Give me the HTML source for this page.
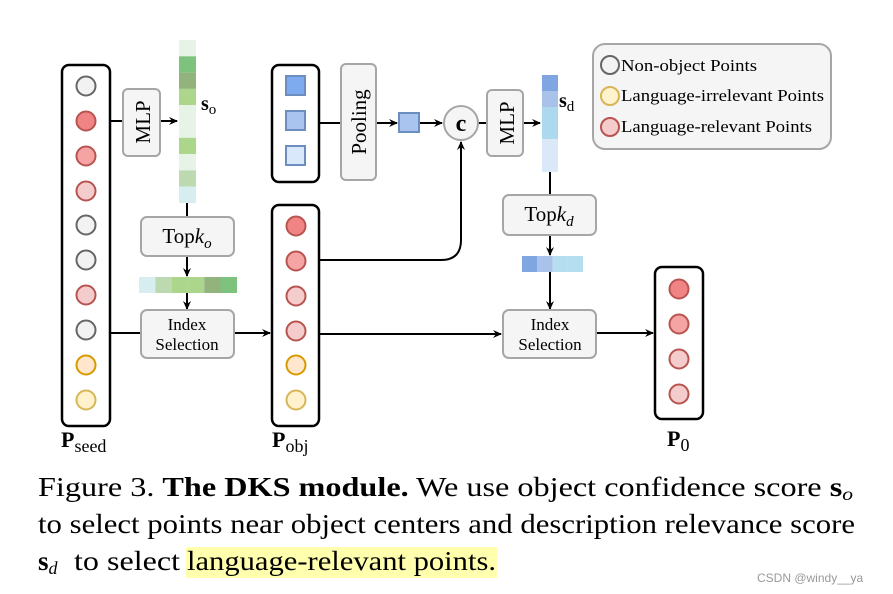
<!DOCTYPE html>
<html><head><meta charset="utf-8"><style>
html,body{margin:0;padding:0;background:#fff;}
svg{display:block;}
text{font-family:"Liberation Serif",serif;}
</style></head><body>
<svg width="893" height="594" viewBox="0 0 893 594" xmlns="http://www.w3.org/2000/svg">
<defs>
<marker id="ar" markerWidth="10" markerHeight="10" refX="8" refY="5" orient="auto" markerUnits="userSpaceOnUse">
<path d="M0,1 L9,5 L0,9 L3,5 Z" fill="#000"/>
</marker>
</defs>
<g stroke="#000" stroke-width="2" fill="none">
<line x1="110" y1="121" x2="123" y2="121"/>
<line x1="160" y1="121" x2="177" y2="121" marker-end="url(#ar)"/>
<line x1="187" y1="203" x2="187" y2="217"/>
<line x1="187" y1="256" x2="187" y2="276" marker-end="url(#ar)"/>
<line x1="187" y1="293" x2="187" y2="309" marker-end="url(#ar)"/>
<line x1="110" y1="333" x2="141" y2="333"/>
<line x1="234" y1="333" x2="270" y2="333" marker-end="url(#ar)"/>
<line x1="319" y1="123" x2="341" y2="123"/>
<line x1="376" y1="123" x2="397" y2="123" marker-end="url(#ar)"/>
<line x1="419" y1="123" x2="442" y2="123" marker-end="url(#ar)"/>
<line x1="478" y1="123" x2="487" y2="123"/>
<line x1="523" y1="123" x2="540" y2="123" marker-end="url(#ar)"/>
<path d="M319,260 L441,260 Q461,260 461,240 L461,142" marker-end="url(#ar)"/>
<line x1="550" y1="172" x2="550" y2="195"/>
<line x1="550" y1="235" x2="550" y2="255" marker-end="url(#ar)"/>
<line x1="550" y1="272" x2="550" y2="309" marker-end="url(#ar)"/>
<line x1="319" y1="334" x2="501" y2="334" marker-end="url(#ar)"/>
<line x1="596" y1="333" x2="653" y2="333" marker-end="url(#ar)"/>
</g>
<g stroke="#000" stroke-width="2.5" fill="#fff">
<rect x="62" y="65" width="48" height="361" rx="7"/>
<rect x="272" y="65" width="47" height="117" rx="7"/>
<rect x="272" y="205" width="47" height="221" rx="7"/>
<rect x="655" y="267" width="48" height="152" rx="7"/>
</g>
<g stroke="#a6a6a6" stroke-width="2" fill="#f5f5f5">
<rect x="123" y="89" width="37" height="67" rx="5"/>
<rect x="141" y="217" width="93" height="39" rx="6"/>
<rect x="141" y="310" width="93" height="48" rx="6"/>
<rect x="341" y="64" width="35" height="116" rx="5"/>
<rect x="487" y="90" width="36" height="66" rx="5"/>
<rect x="503" y="195" width="93" height="40" rx="6"/>
<rect x="503" y="310" width="93" height="48" rx="6"/>
<rect x="593" y="44" width="238" height="105" rx="12"/>
</g>
<circle cx="461" cy="123" r="17" fill="#f5f5f5" stroke="#a6a6a6" stroke-width="2"/>
<text x="461" y="131" font-size="24" text-anchor="middle" font-weight="bold">c</text>
<text transform="translate(150,122) rotate(-90)" font-size="21" text-anchor="middle">MLP</text>
<text transform="translate(514,123) rotate(-90)" font-size="21" text-anchor="middle">MLP</text>
<text transform="translate(366,122) rotate(-90)" font-size="21" text-anchor="middle">Pooling</text>
<text x="187" y="243" font-size="21" text-anchor="middle">Top<tspan font-style="italic">k</tspan><tspan font-style="italic" font-size="15" dy="5">o</tspan></text>
<text x="549" y="221" font-size="21" text-anchor="middle">Top<tspan font-style="italic">k</tspan><tspan font-style="italic" font-size="15" dy="5">d</tspan></text>
<text x="187" y="330" font-size="17" text-anchor="middle">Index</text>
<text x="187" y="350" font-size="17" text-anchor="middle">Selection</text>
<text x="550" y="330" font-size="17" text-anchor="middle">Index</text>
<text x="550" y="350" font-size="17" text-anchor="middle">Selection</text>
<g stroke="none">
<rect x="179" y="40" width="17" height="16.3" fill="#e8f3e8"/>
<rect x="179" y="56.3" width="17" height="16.3" fill="#7dc37d"/>
<rect x="179" y="72.6" width="17" height="16.3" fill="#93b37d"/>
<rect x="179" y="88.9" width="17" height="16.3" fill="#acd68b"/>
<rect x="179" y="105.2" width="17" height="16.3" fill="#e8f3e8"/>
<rect x="179" y="121.5" width="17" height="16.3" fill="#e8f3e8"/>
<rect x="179" y="137.8" width="17" height="16.3" fill="#acd68b"/>
<rect x="179" y="154.1" width="17" height="16.3" fill="#e8f3e8"/>
<rect x="179" y="170.4" width="17" height="16.3" fill="#bcd9b0"/>
<rect x="179" y="186.7" width="17" height="16.3" fill="#d6eef0"/>
<rect x="139" y="277" width="16.3" height="16" fill="#d6eef0"/>
<rect x="155.3" y="277" width="16.3" height="16" fill="#bcd9b0"/>
<rect x="171.6" y="277" width="16.3" height="16" fill="#acd68b"/>
<rect x="187.9" y="277" width="16.3" height="16" fill="#acd68b"/>
<rect x="204.2" y="277" width="16.3" height="16" fill="#93b37d"/>
<rect x="220.5" y="277" width="16.5" height="16" fill="#7dc37d"/>
<rect x="542" y="75" width="16" height="16" fill="#7fa6e0"/>
<rect x="542" y="91" width="16" height="16" fill="#a8c2ea"/>
<rect x="542" y="107" width="16" height="16" fill="#add9ee"/>
<rect x="542" y="123" width="16" height="16" fill="#add9ee"/>
<rect x="542" y="139" width="16" height="33" fill="#dae8f8"/>
<rect x="522" y="256" width="15.3" height="16" fill="#7fa6e0"/>
<rect x="537.3" y="256" width="15.3" height="16" fill="#a8c2ea"/>
<rect x="552.6" y="256" width="15.3" height="16" fill="#b5def0"/>
<rect x="567.9" y="256" width="15.1" height="16" fill="#b5def0"/>
</g>
<text x="201" y="110" font-size="20" font-weight="bold">s<tspan font-weight="normal" font-size="15" dy="4">o</tspan></text>
<text x="559" y="107" font-size="20" font-weight="bold">s<tspan font-weight="normal" font-size="15" dy="4">d</tspan></text>
<g stroke="#6c8ebf" stroke-width="2">
<rect x="286" y="76" width="19" height="19" fill="#7eaaf0"/>
<rect x="286" y="111" width="19" height="19" fill="#a9c4ef"/>
<rect x="286" y="146" width="19" height="19" fill="#dae8fc"/>
<rect x="399" y="113" width="20" height="19" fill="#a9c4ef"/>
</g>
<g stroke-width="2">
<g stroke="#666" fill="#f2f2f2"><circle cx="86" cy="86" r="9.5"/><circle cx="86" cy="225" r="9.5"/><circle cx="86" cy="260" r="9.5"/><circle cx="86" cy="330" r="9.5"/><circle cx="610" cy="65" r="9"/></g>
<g stroke="#b85450" fill="#f08484"><circle cx="86" cy="121" r="9.5"/><circle cx="296" cy="226" r="9.5"/><circle cx="679" cy="289" r="9.5"/></g>
<g stroke="#b85450" fill="#f5a3a3"><circle cx="86" cy="156" r="9.5"/><circle cx="296" cy="261" r="9.5"/><circle cx="679" cy="324" r="9.5"/></g>
<g stroke="#b85450" fill="#f5cccc"><circle cx="86" cy="191" r="9.5"/><circle cx="86" cy="295" r="9.5"/><circle cx="296" cy="296" r="9.5"/><circle cx="296" cy="331" r="9.5"/><circle cx="679" cy="359" r="9.5"/><circle cx="679" cy="394" r="9.5"/><circle cx="610" cy="127" r="9"/></g>
<g stroke="#d79b00" fill="#ffe6cc"><circle cx="86" cy="365" r="9.5"/><circle cx="296" cy="365" r="9.5"/></g>
<g stroke="#d6b656" fill="#fff2cc"><circle cx="86" cy="400" r="9.5"/><circle cx="296" cy="400" r="9.5"/><circle cx="610" cy="96" r="9"/></g>
</g>
<text x="621" y="71" font-size="17" textLength="136" lengthAdjust="spacingAndGlyphs">Non-object Points</text>
<text x="621" y="101" font-size="17" textLength="203" lengthAdjust="spacingAndGlyphs">Language-irrelevant Points</text>
<text x="621" y="132" font-size="17" textLength="191" lengthAdjust="spacingAndGlyphs">Language-relevant Points</text>
<text x="61" y="447" font-size="22" font-weight="bold">P<tspan font-weight="normal" font-size="18" dy="5">seed</tspan></text>
<text x="272" y="447" font-size="22" font-weight="bold">P<tspan font-weight="normal" font-size="18" dy="5">obj</tspan></text>
<text x="667" y="446" font-size="22" font-weight="bold">P<tspan font-weight="normal" font-size="18" dy="5">0</tspan></text>
<rect x="186" y="547" width="311" height="31" fill="#ffff99" opacity="0.8"/>
<text x="38" y="496" font-size="27" textLength="815" lengthAdjust="spacingAndGlyphs">Figure 3.  <tspan font-weight="bold">The DKS module.</tspan>  We use object confidence score <tspan font-weight="bold">s</tspan><tspan font-style="italic" font-size="18" dy="4">o</tspan></text>
<text x="38" y="533" font-size="27" textLength="817" lengthAdjust="spacingAndGlyphs">to select points near object centers and description relevance score</text>
<text x="38" y="570" font-size="27"><tspan font-weight="bold">s</tspan><tspan font-style="italic" font-size="18" dy="4">d</tspan></text>
<text x="74" y="570" font-size="27" textLength="106" lengthAdjust="spacingAndGlyphs">to select</text>
<text x="187" y="570" font-size="27" textLength="309" lengthAdjust="spacingAndGlyphs">language-relevant points.</text>
<text x="757" y="582" font-size="12" fill="#999" style="font-family:'Liberation Sans',sans-serif">CSDN @windy__ya</text>
</svg>
</body></html>
